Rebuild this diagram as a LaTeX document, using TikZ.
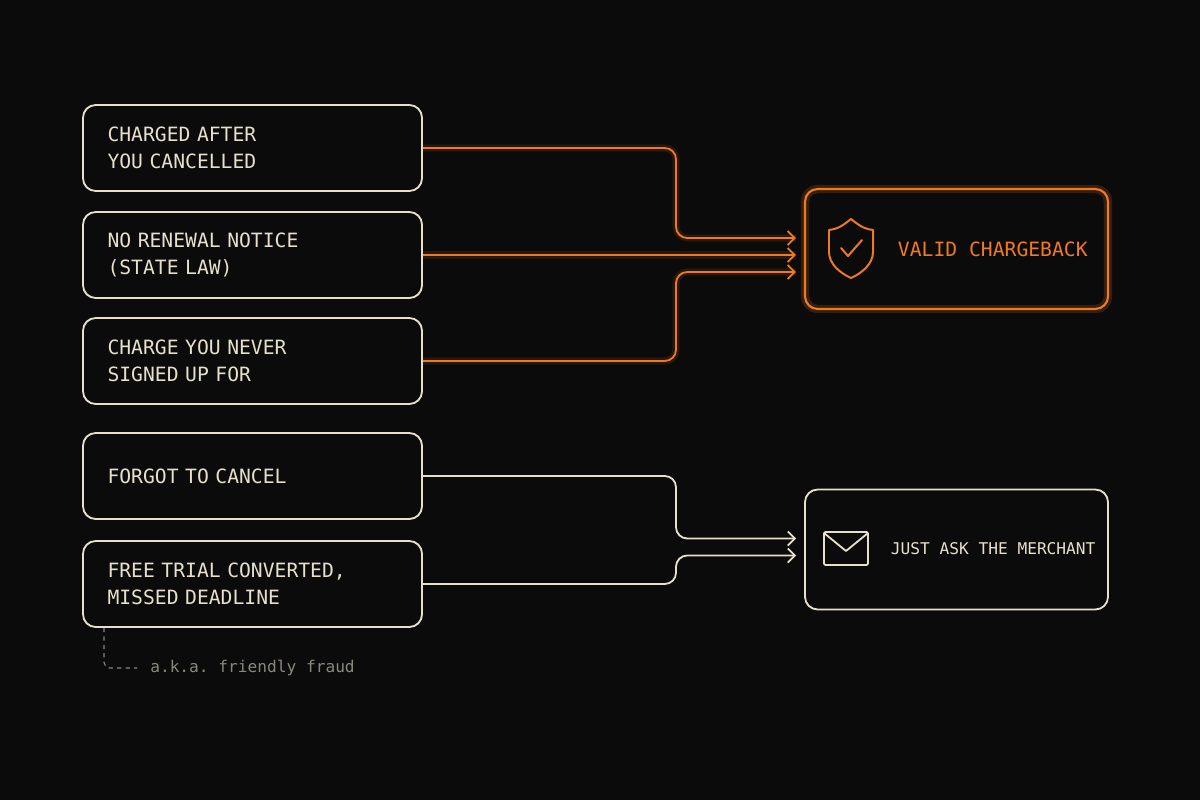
\documentclass[tikz,border=0pt]{standalone}
\usepackage{fontspec}
\setmonofont{DejaVu Sans Mono}
\usetikzlibrary{arrows.meta,positioning}
\definecolor{FondNoir}{HTML}{0B0B0B}
\definecolor{CremeTrait}{HTML}{E6E0CC}
\definecolor{OrangeVif}{HTML}{F07A1F}
\definecolor{GrisNote}{HTML}{8A877F}
\tikzset{
  cause/.style={draw=CremeTrait, line width=1.3pt, rounded corners=9pt, minimum width=339*0.025cm,
    minimum height=86*0.025cm, text width=290*0.025cm, align=left, text=CremeTrait,
    font=\ttfamily\fontsize{14}{19}\selectfont, inner sep=0pt},
  issue/.style={rounded corners=9pt, minimum width=303*0.025cm, minimum height=120*0.025cm, inner sep=0pt},
  lien/.style={line width=1.3pt, rounded corners=8pt, arrows={-Straight Barb[length=5pt]}},
}
\begin{document}
\begin{tikzpicture}[x=0.025cm,y=-0.025cm]
    \fill[FondNoir] (0,0) rectangle (1200,800);
    \useasboundingbox (0,0) rectangle (1200,800);
    % causes
    \node[cause] (apres) at (252.5,148) {CHARGED AFTER\\YOU CANCELLED};
    \node[cause] (avis) at (252.5,255) {NO RENEWAL NOTICE\\(STATE LAW)};
    \node[cause] (jamais) at (252.5,361) {CHARGE YOU NEVER\\SIGNED UP FOR};
    \node[cause] (oubli) at (252.5,476) {FORGOT TO CANCEL};
    \node[cause] (essai) at (252.5,584) {FREE TRIAL CONVERTED,\\MISSED DEADLINE};
    % issues
    \node[issue, draw=OrangeVif, line width=6pt, opacity=0.18] at (956.5,249) {};
    \node[issue, draw=OrangeVif, line width=1.5pt] (valide) at (956.5,249) {};
    \node[issue, draw=CremeTrait, line width=1.3pt] (marchand) at (956.5,549.5) {};
    \node[text=OrangeVif, font=\ttfamily\fontsize{14}{17}\selectfont, anchor=west] (tvalide) at (893,249) {VALID CHARGEBACK};
    \node[text=CremeTrait, font=\ttfamily\fontsize{11.5}{14}\selectfont, anchor=west] (tmarchand) at (886,549) {JUST ASK THE MERCHANT};
    % shield
    \draw[OrangeVif, line width=1.4pt, line join=round] (851,219) .. controls (840,228) and (836,229) .. (829,230)
        -- (829,252) .. controls (829,264) and (840,273) .. (851,278) .. controls (862,273) and (873,264) .. (873,252)
        -- (873,230) .. controls (866,229) and (862,228) .. (851,219) -- cycle;
    \draw[OrangeVif, line width=1.4pt, line cap=round, line join=round] (841,248) -- (848,256) -- (862,240);
    % envelope
    \draw[CremeTrait, line width=1.3pt, rounded corners=1pt] (824,532) rectangle (868,565);
    \draw[CremeTrait, line width=1.3pt, line join=round] (824,533) -- (846,551) -- (868,533);
    % connectors
    \coordinate (v1) at ([yshift=11*0.025cm]valide.west);
    \coordinate (v3) at ([yshift=-23*0.025cm]valide.west);
    \coordinate (m1) at ([yshift=11*0.025cm]marchand.west);
    \coordinate (m2) at ([yshift=-6*0.025cm]marchand.west);
    \begin{scope}[OrangeVif]
        \foreach \de/\vers in {apres/v1, jamais/v3} {
            \draw[line width=5pt, opacity=0.12, rounded corners=8pt] (\de.east) -| (676,0 |- \vers) -- ([xshift=-8*0.025cm]\vers);
            \draw[lien] (\de.east) -| (676,0 |- \vers) -- ([xshift=-8*0.025cm]\vers);
        }
        \draw[line width=5pt, opacity=0.12] (avis.east) -- ([xshift=-8*0.025cm]avis.east -| valide.west);
        \draw[lien] (avis.east) -- ([xshift=-8*0.025cm]avis.east -| valide.west);
    \end{scope}
    \foreach \de/\vers in {oubli/m1, essai/m2} {
        \draw[lien, CremeTrait] (\de.east) -| (676,0 |- \vers) -- ([xshift=-8*0.025cm]\vers);
    }
    % note
    \coordinate (coin) at (104,668);
    \draw[GrisNote, line width=0.8pt, dashed, rounded corners=4pt] ([xshift=-148.5*0.025cm]essai.south) -- (coin) -- (137,668);
    \node[text=GrisNote, font=\ttfamily\fontsize{11.5}{14}\selectfont, anchor=west, inner sep=0pt] (note) at (150,668) {a.k.a. friendly fraud};
\end{tikzpicture}
\end{document}
